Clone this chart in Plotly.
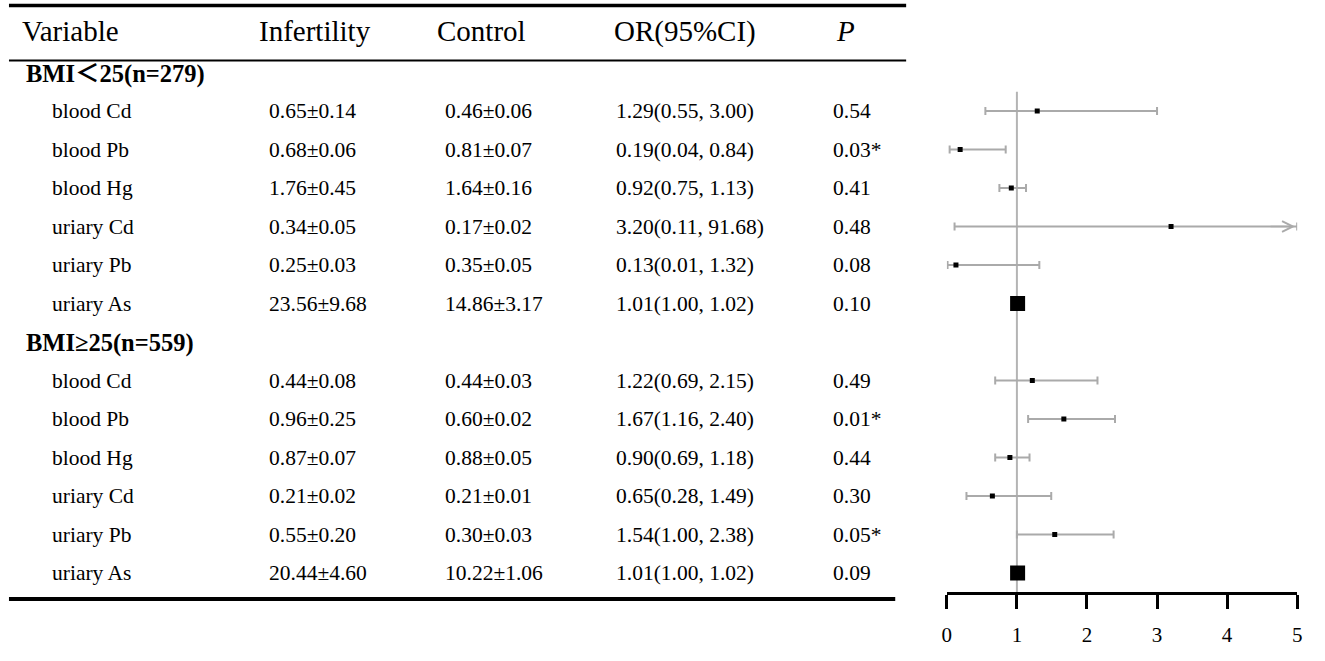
import plotly.graph_objects as go

# table content
variables = ["blood Cd", "blood Pb", "blood Hg", "uriary Cd", "uriary Pb", "uriary As"]
groups = ["BMI＜25(n=279)", "BMI≥25(n=559)"]
headers = ["Variable", "Infertility", "Control", "OR(95%CI)", "P"]

infertility = [
    ["0.65±0.14", "0.68±0.06", "1.76±0.45", "0.34±0.05", "0.25±0.03", "23.56±9.68"],
    ["0.44±0.08", "0.96±0.25", "0.87±0.07", "0.21±0.02", "0.55±0.20", "20.44±4.60"],
]
control = [
    ["0.46±0.06", "0.81±0.07", "1.64±0.16", "0.17±0.02", "0.35±0.05", "14.86±3.17"],
    ["0.44±0.03", "0.60±0.02", "0.88±0.05", "0.21±0.01", "0.30±0.03", "10.22±1.06"],
]
odds = [
    [1.29, 0.19, 0.92, 3.20, 0.13, 1.01],
    [1.22, 1.67, 0.90, 0.65, 1.54, 1.01],
]
ci_low = [
    [0.55, 0.04, 0.75, 0.11, 0.01, 1.00],
    [0.69, 1.16, 0.69, 0.28, 1.00, 1.00],
]
ci_high = [
    [3.00, 0.84, 1.13, 91.68, 1.32, 1.02],
    [2.15, 2.40, 1.18, 1.49, 2.38, 1.02],
]
p_text = [
    ["0.54", "0.03*", "0.41", "0.48", "0.08", "0.10"],
    ["0.49", "0.01*", "0.44", "0.30", "0.05*", "0.09"],
]
x_ticks = [0, 1, 2, 3, 4, 5]

W, H = 1325, 661
ROW0, STEP = 111, 38.5   # pixel of first data row, row spacing
X_MAX = 5
SERIF = "Liberation Serif, Times New Roman, Noto Sans CJK SC, serif"
GREY = "#aaaaaa"


def px(x):
    return x / W


def py(y):
    return 1 - y / H


fig = go.Figure()
annotations = []

# row index: group header, then 6 variables, per group
rows_or, rows_lo, rows_hi, rows_y = [], [], [], []
r = -1
for g in range(2):
    annotations.append(dict(x=px(19), y=r + 0.03, text="<b>%s</b>" % groups[g],
                            font=dict(size=24.5)))
    r += 1
    for i, v in enumerate(variables):
        annotations.append(dict(x=px(45), y=r, text=v))
        annotations.append(dict(x=px(264), y=r, text=infertility[g][i]))
        annotations.append(dict(x=px(441), y=r, text=control[g][i]))
        annotations.append(dict(
            x=px(614), y=r,
            text="%.2f(%.2f, %.2f)" % (odds[g][i], ci_low[g][i], ci_high[g][i])))
        annotations.append(dict(x=px(832), y=r, text=p_text[g][i]))
        rows_or.append(odds[g][i])
        rows_lo.append(ci_low[g][i])
        rows_hi.append(ci_high[g][i])
        rows_y.append(r)
        r += 1

header_x = [15, 254, 433, 612, 835]
for h, hx in zip(headers, header_x):
    annotations.append(dict(x=px(hx), y=-2.07,
                            text="<i>%s</i>" % h if h == "P" else h,
                            font=dict(size=29)))

for a in annotations:
    a.update(xref="paper", yref="y", xanchor="left", yanchor="middle",
             showarrow=False)
    f = a.get("font", {})
    a["font"] = dict(family=SERIF, color="black", size=f.get("size", 21.5))

# reference line at OR = 1
fig.add_trace(go.Scatter(
    x=[1, 1], y=[-0.5, (593 - ROW0) / STEP], mode="lines",
    line=dict(color="#b4b4b4", width=2), hoverinfo="skip", showlegend=False))

# CI whiskers
shown_hi = [min(h, X_MAX) for h in rows_hi]
fig.add_trace(go.Scatter(
    x=rows_or, y=rows_y, mode="markers",
    marker=dict(size=1, color="rgba(0,0,0,0)"),
    error_x=dict(type="data", symmetric=False,
                 array=[h - o for h, o in zip(shown_hi, rows_or)],
                 arrayminus=[o - l for o, l in zip(rows_or, rows_lo)],
                 color=GREY, thickness=2, width=4),
    hoverinfo="skip", showlegend=False))

# point estimates, bigger box for the tightest intervals
sizes = [15 if (h - l) < 0.1 else 5 for h, l in zip(rows_hi, rows_lo)]
fig.add_trace(go.Scatter(
    x=rows_or, y=rows_y, mode="markers",
    marker=dict(symbol="square", color="black", size=sizes, opacity=1,
                line=dict(width=0)),
    showlegend=False))

# arrows for intervals running past the axis
for o, h, y in zip(rows_or, rows_hi, rows_y):
    if h > X_MAX:
        annotations.append(dict(
            x=X_MAX - 0.03, y=y, ax=X_MAX - 0.4, ay=y, xref="x", yref="y",
            axref="x", ayref="y", text="", showarrow=True, arrowhead=5,
            arrowsize=1.4, arrowwidth=1.5, arrowcolor=GREY))

shapes = [
    dict(type="line", xref="paper", yref="paper", x0=px(4), x1=px(908),
         y0=py(5.5), y1=py(5.5), line=dict(color="black", width=3.5)),
    dict(type="line", xref="paper", yref="paper", x0=px(4), x1=px(908),
         y0=py(60.5), y1=py(60.5), line=dict(color="black", width=2)),
    dict(type="line", xref="paper", yref="paper", x0=px(4), x1=px(897),
         y0=py(599), y1=py(599), line=dict(color="black", width=4)),
]

fig.update_layout(
    width=W, height=H,
    margin=dict(l=0, r=0, t=0, b=0),
    paper_bgcolor="white", plot_bgcolor="white",
    showlegend=False,
    annotations=annotations,
    shapes=shapes,
    xaxis=dict(domain=[px(949), px(1302)], range=[0, X_MAX],
               anchor="free", position=py(593), side="bottom",
               tickvals=x_ticks, ticks="outside", ticklen=14, tickwidth=3,
               tickcolor="black", showline=True, linewidth=3,
               linecolor="black", showgrid=False, zeroline=False,
               ticklabelstandoff=8,
               tickfont=dict(family=SERIF, size=21, color="black")),
    yaxis=dict(domain=[0, 1], range=[(H - ROW0) / STEP, -ROW0 / STEP],
               visible=False, showgrid=False, zeroline=False),
)

fig.write_html("out.html", config={"displayModeBar": False},
               post_script="document.body.style.margin = '0px';")
